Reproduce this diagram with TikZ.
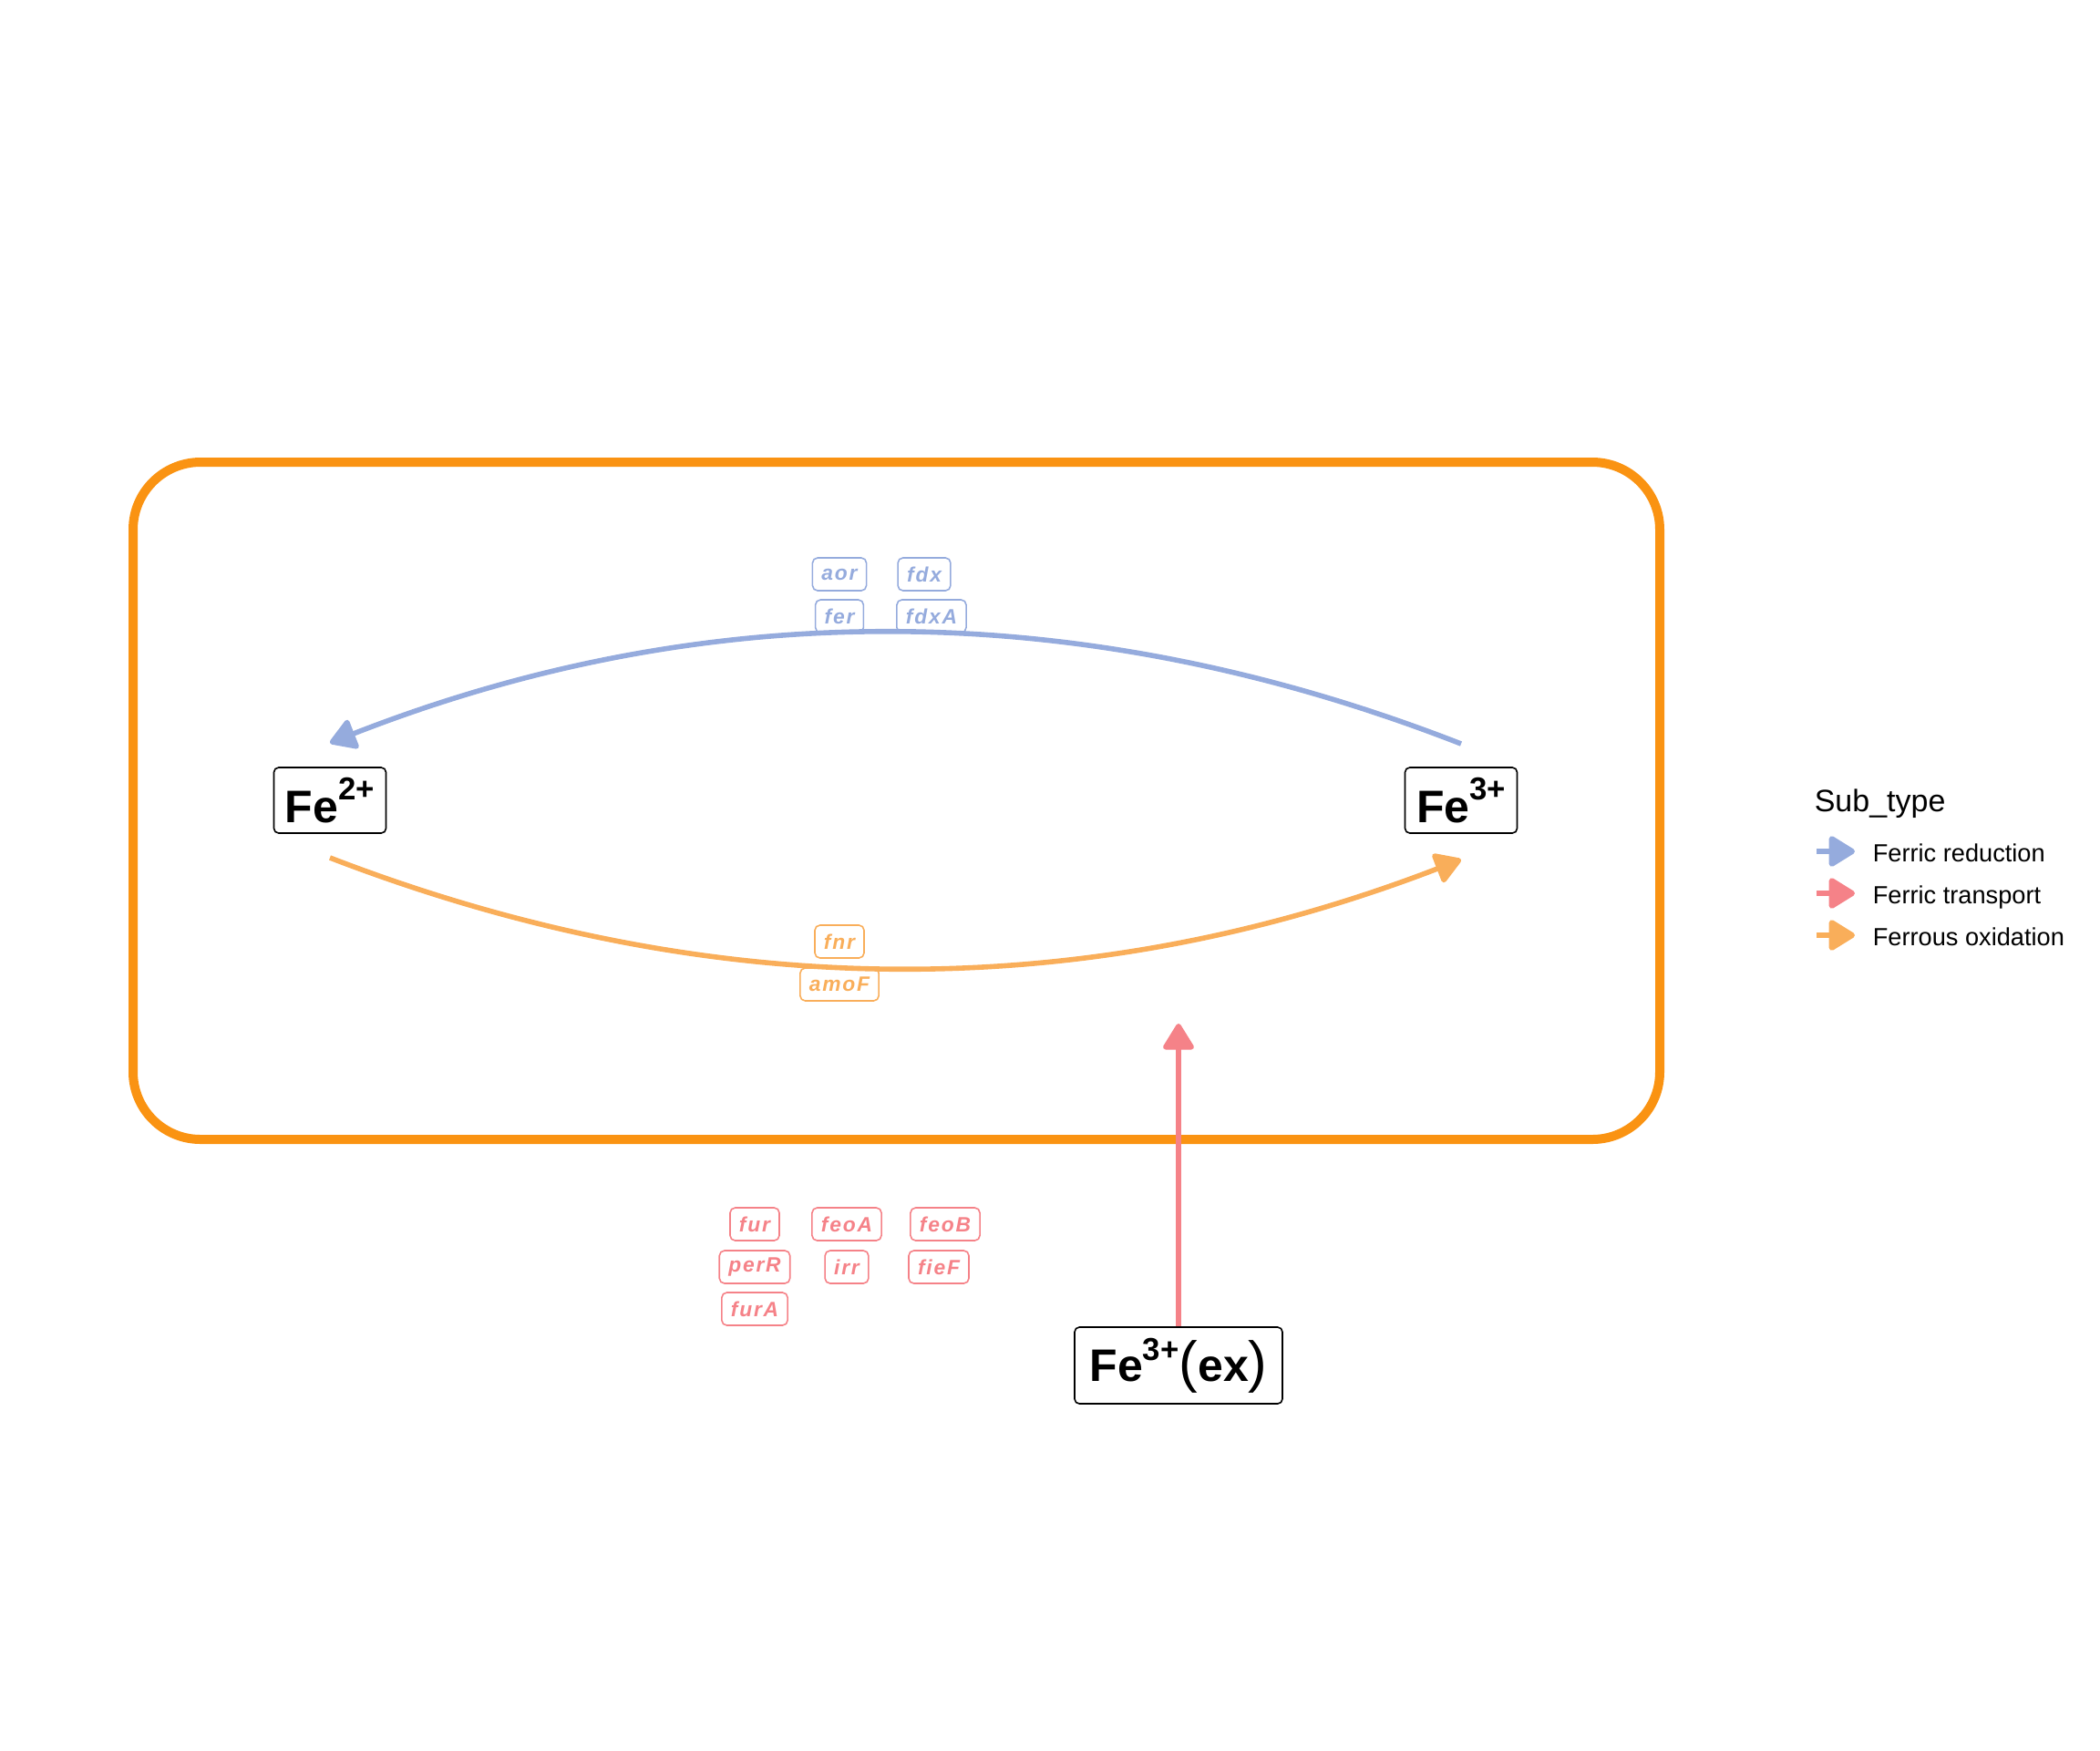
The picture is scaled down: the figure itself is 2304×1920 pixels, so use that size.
\documentclass[tikz,border=0pt]{standalone}
\usepackage{fontspec}
\setmainfont{Liberation Sans}
\newfontfamily\lblfont[LetterSpace=8]{Liberation Sans}
\usetikzlibrary{arrows.meta,calc}
\definecolor{cblue}{RGB}{149,171,221}
\definecolor{cred}{RGB}{245,130,136}
\definecolor{corange}{RGB}{249,174,90}
\definecolor{cbox}{RGB}{250,147,18}
\newcommand{\ionlabel}[2]{{\fontsize{12.5}{14}\selectfont\bfseries Fe\raisebox{#2}{\fontsize{8.7}{9}\selectfont #1}}}
\tikzset{
  ion/.style={draw=black, line width=0.4pt, rounded corners=1.3pt, inner sep=0pt, minimum width=30.75pt, minimum height=18pt, fill=white},
  gene/.style={draw=#1, text=#1, line width=0.4pt, rounded corners=1.4pt, inner xsep=2.5pt, inner ysep=0pt, minimum height=9pt, font=\lblfont\bfseries\itshape\fontsize{5.7}{6}\selectfont},
  flow/.style={draw=#1, line width=1.4pt, -{Triangle[length=7.8pt,width=9.2pt,round]}},
  legtxt/.style={anchor=base west, inner sep=0pt, font=\fontsize{6.8}{8}\selectfont},
}
\begin{document}
\begin{tikzpicture}[x=0.25pt, y=-0.25pt]
\useasboundingbox (0,0) rectangle (2304,1920);
% cell compartment
\node[draw=cbox, line width=2.5pt, rounded corners=18.5pt, minimum width=418.75pt, minimum height=185.75pt, inner sep=0pt] (cell) at (983.5,878.5) {};
% ions
\node[ion] (fe2) at (362,878) {\ionlabel{2+}{6.2pt}};
\node[ion] (fe3) at (1603,878) {\ionlabel{3+}{6.2pt}};
\node[ion, minimum width=57pt, minimum height=21pt] (ex) at (1293,1498) {{\fontsize{12.5}{14}\selectfont\bfseries Fe\raisebox{5.8pt}{\fontsize{8.7}{9}\selectfont 3+}{\mdseries\fontsize{15.5}{16}\selectfont(}ex{\mdseries\fontsize{15.5}{16}\selectfont)}}};
% anchor points of the arcs
\coordinate (b1) at ($(fe3)+(0,-62)$);
\coordinate (b2) at ($(fe2)+(0,-63)$);
\coordinate (o1) at ($(fe2)+(0,63)$);
\coordinate (o2) at ($(fe3)+(0,65)$);
\coordinate (rtip) at (1293,1123);
% connectors
\draw[flow=cblue] (b1) .. controls ($(b1)+(-415,-162)$) and ($(b2)+(414,-162)$) .. (b2);
\draw[flow=corange] (o1) .. controls ($(o1)+(415,160)$) and ($(o2)+(-415,160)$) .. (o2);
\draw[flow=cred] (ex.north) -- (rtip);
% gene labels: ferric reduction
\node[gene=cblue] (g1) at (921,630) {aor};
\node[gene=cblue] (g2) at (1014,630) {fdx};
\node[gene=cblue] (g3) at (921,676) {fer};
\node[gene=cblue] (g4) at (1022,676) {fdxA};
% ferrous oxidation
\node[gene=corange] (g5) at (921,1033) {fnr};
\node[gene=corange] (g6) at (921,1080) {amoF};
% ferric transport
\node[gene=cred] (g7) at (828,1343) {fur};
\node[gene=cred] (g8) at (929,1343) {feoA};
\node[gene=cred] (g9) at (1037,1343) {feoB};
\node[gene=cred] (g10) at (828,1390) {perR};
\node[gene=cred] (g11) at (929,1390) {irr};
\node[gene=cred] (g12) at (1030,1390) {fieF};
\node[gene=cred] (g13) at (828,1436) {furA};
% legend
\node[anchor=base west, inner sep=0pt, font=\fontsize{8.5}{10}\selectfont] (legtitle) at (1990,890) {Sub\_type};
\draw[flow=cblue, line width=1.5pt] (1993,934) -- (2035,934);
\draw[flow=cred, line width=1.5pt] (1993,980) -- (2035,980);
\draw[flow=corange, line width=1.5pt] (1993,1026) -- (2035,1026);
\node[legtxt] (l1) at (2054,945) {Ferric reduction};
\node[legtxt] (l2) at (2054,991) {Ferric transport};
\node[legtxt] (l3) at (2054,1037) {Ferrous oxidation};
\end{tikzpicture}
\end{document}
